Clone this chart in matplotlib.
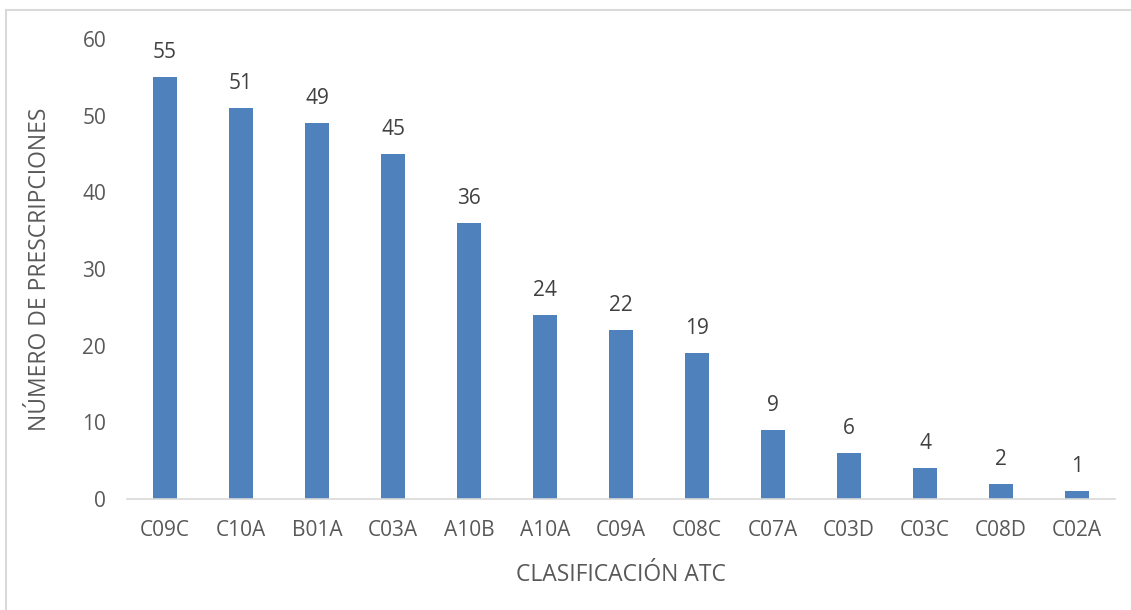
import matplotlib.pyplot as plt
from matplotlib.lines import Line2D

categorias = ["C09C", "C10A", "B01A", "C03A", "A10B", "A10A", "C09A",
              "C08C", "C07A", "C03D", "C03C", "C08D", "C02A"]
prescripciones = [55, 51, 49, 45, 36, 24, 22, 19, 9, 6, 4, 2, 1]

plt.rcParams['font.family'] = ['Open Sans', 'DejaVu Sans']
texto = "#595959"

fig = plt.figure(figsize=(11.31, 6.10), dpi=100)
ax = fig.add_axes([0.1123, 0.182, 0.8736, 0.754])

x = range(len(categorias))
barras = ax.bar(x, prescripciones, width=0.315, color="#4F81BD")
for b, v in zip(barras, prescripciones):
    ax.annotate(str(v), (b.get_x() + b.get_width() / 2, v), xytext=(0, 10),
                textcoords="offset points", ha="center", va="bottom",
                fontsize=15, color="#404040")

ax.set_xlim(-0.5, len(categorias) - 0.5)
ax.set_ylim(0, 60)
ax.set_yticks(range(0, 61, 10))
ax.set_xticks(list(x))
ax.set_xticklabels(categorias)
ax.tick_params(axis="both", length=0, labelsize=15, colors=texto)
ax.tick_params(axis="x", pad=15)
ax.tick_params(axis="y", pad=15)

for s in ["top", "right", "left"]:
    ax.spines[s].set_visible(False)
ax.spines["bottom"].set_color("#D9D9D9")
ax.spines["bottom"].set_linewidth(1.2)

ax.set_xlabel("CLASIFICACIÓN ATC", fontsize=16.5, color=texto, labelpad=16)
ax.set_ylabel("NÚMERO DE PRESCRIPCIONES", fontsize=16.5, color=texto, labelpad=22)

# borde gris solo arriba y a la izquierda (recorte del grafico original)
fig.lines.append(Line2D([0.0057, 1], [0.9844, 0.9844], transform=fig.transFigure,
                        color="#D9D9D9", linewidth=1.5))
fig.lines.append(Line2D([0.0057, 0.0057], [0, 0.9844], transform=fig.transFigure,
                        color="#D9D9D9", linewidth=1.5))

fig.savefig("out.png", dpi=100)
